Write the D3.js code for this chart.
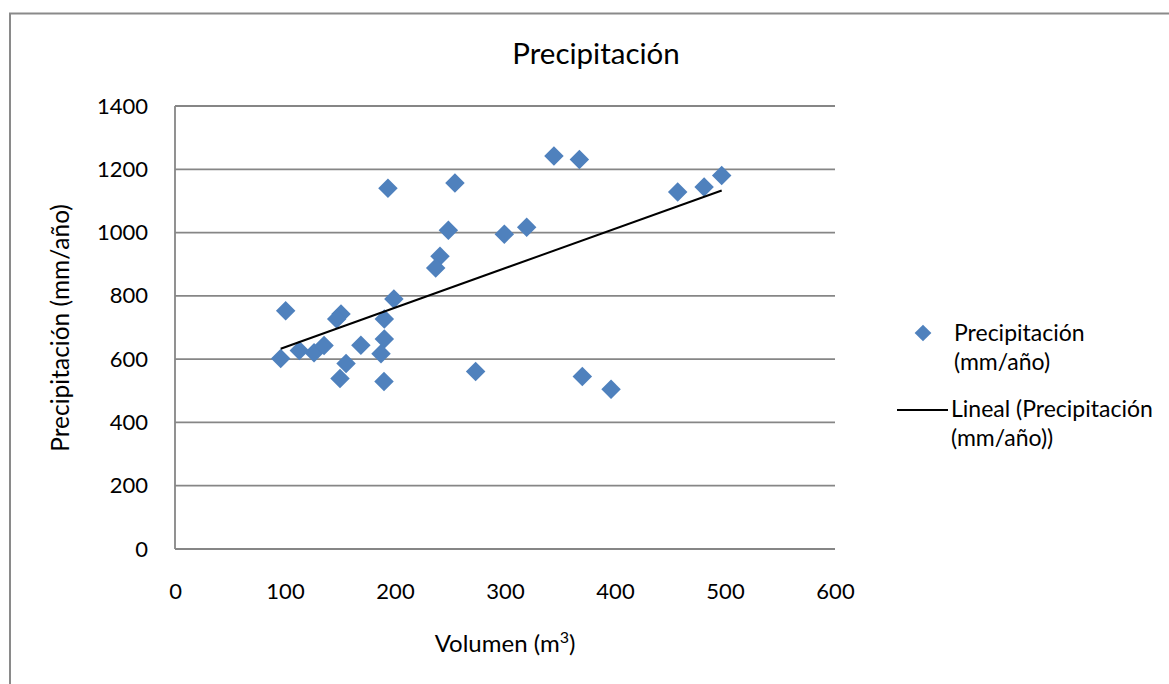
<!DOCTYPE html>
<html>
<head>
<meta charset="utf-8">
<script src="https://cdn.jsdelivr.net/npm/d3@7"></script>
<style>
  html, body { margin: 0; padding: 0; background: #fff; }
  svg { display: block; font-family: Lato, "Open Sans", sans-serif; }
</style>
</head>
<body>
<svg id="chart" width="1169" height="684"></svg>
<script>
// ---- data ----
const volumen = [100.6, 96.1, 113, 126.4, 135.5, 150.9, 147, 155.5, 150, 169,
                 190.3, 190.3, 187.3, 190, 199, 193.6, 254.5, 248.5, 299.4, 319.7,
                 240.9, 237, 344.5, 367.6, 457, 481, 497, 273.3, 370.3, 396.4];
const precipitacion = [753, 602, 627, 620, 643, 743, 727, 586, 539, 644,
                       727, 664, 617, 529, 790, 1140, 1157, 1007, 995, 1017,
                       925, 888, 1242, 1231, 1128, 1144, 1180, 561, 545, 505];
const xTicks = [0, 100, 200, 300, 400, 500, 600];
const yTicks = [0, 200, 400, 600, 800, 1000, 1200, 1400];
const titleText = "Precipitación";
const xTitleParts = ["Volumen (m", "3", ")"];
const yTitle = "Precipitación (mm/año)";
const legendSeries = ["Precipitación", "(mm/año)"];
const legendTrend = ["Lineal (Precipitación", "(mm/año))"];

const points = volumen.map((v, i) => ({x: v, y: precipitacion[i]}));

const svg = d3.select("#chart");
const x = d3.scaleLinear().domain([0, 600]).range([175, 835]);
const y = d3.scaleLinear().domain([0, 1400]).range([549, 106]);

const gridColor = "#868686";
const blue = "#4F81BD";

// outer chart border
svg.append("rect").attr("x", 10).attr("y", 13.5).attr("width", 1180).attr("height", 700)
  .attr("fill", "none").attr("stroke", "#8a8a8a").attr("stroke-width", 2);

// gridlines
svg.append("g").selectAll("line").data(yTicks).join("line")
  .attr("x1", x(0)).attr("x2", x(600))
  .attr("y1", d => y(d)).attr("y2", d => y(d))
  .attr("stroke", gridColor).attr("stroke-width", 1.8);

// y axis line
svg.append("line").attr("x1", x(0)).attr("x2", x(0)).attr("y1", y(0)).attr("y2", y(1400))
  .attr("stroke", gridColor).attr("stroke-width", 1.8);

// y tick labels
const yAxis = d3.axisLeft(y).tickValues(yTicks).tickSize(0).tickPadding(27).tickFormat(d3.format("d"));
const gy = svg.append("g").attr("transform", `translate(${x(0)},0)`).call(yAxis);
gy.select(".domain").remove();
gy.selectAll("text").attr("font-size", 22).attr("font-family", "Lato, sans-serif").attr("fill", "#000");

// x tick labels
const xAxis = d3.axisBottom(x).tickValues(xTicks).tickSize(0).tickPadding(34).tickFormat(d3.format("d"));
const gx = svg.append("g").attr("transform", `translate(0,${y(0)})`).call(xAxis);
gx.select(".domain").remove();
gx.selectAll("text").attr("font-size", 22).attr("font-family", "Lato, sans-serif").attr("fill", "#000");

// trendline (least squares)
const mx = d3.mean(points, d => d.x), my = d3.mean(points, d => d.y);
const slope = d3.sum(points, d => (d.x - mx) * (d.y - my)) / d3.sum(points, d => (d.x - mx) ** 2);
const intercept = my - slope * mx;
const [xmin, xmax] = d3.extent(points, d => d.x);

// markers
const diamond = d3.symbol().type(d3.symbolSquare).size(190);
svg.append("g").selectAll("path").data(points).join("path")
  .attr("d", diamond)
  .attr("transform", d => `translate(${x(d.x)},${y(d.y)}) rotate(45)`)
  .attr("fill", blue);

svg.append("line")
  .attr("x1", x(xmin)).attr("y1", y(slope * xmin + intercept))
  .attr("x2", x(xmax)).attr("y2", y(slope * xmax + intercept))
  .attr("stroke", "#000").attr("stroke-width", 2);

// title
svg.append("text").attr("x", 596).attr("y", 64).attr("text-anchor", "middle")
  .attr("font-size", 29.5).attr("fill", "#000").text(titleText);

// axis titles
const xt = svg.append("text").attr("x", 505).attr("y", 652).attr("text-anchor", "middle")
  .attr("font-size", 24).attr("fill", "#000");
xt.append("tspan").text(xTitleParts[0]);
xt.append("tspan").attr("dy", -9).attr("font-size", 16).text(xTitleParts[1]);
xt.append("tspan").attr("dy", 9).text(xTitleParts[2]);

svg.append("text").attr("transform", "translate(69,328) rotate(-90)").attr("text-anchor", "middle")
  .attr("font-size", 24.5).attr("fill", "#000").text(yTitle);

// legend
const lg = svg.append("g");
lg.append("path").attr("d", d3.symbol().type(d3.symbolSquare).size(140))
  .attr("transform", "translate(923,333) rotate(45)").attr("fill", blue);
lg.append("text").attr("x", 954).attr("y", 341).attr("font-size", 23).attr("fill", "#000")
  .selectAll("tspan").data(legendSeries).join("tspan")
  .attr("x", 954).attr("dy", (d, i) => i === 0 ? 0 : 29).text(d => d);
lg.append("line").attr("x1", 897).attr("x2", 948).attr("y1", 410).attr("y2", 410)
  .attr("stroke", "#000").attr("stroke-width", 2);
lg.append("text").attr("x", 951).attr("y", 417).attr("font-size", 23).attr("fill", "#000")
  .selectAll("tspan").data(legendTrend).join("tspan")
  .attr("x", 951).attr("dy", (d, i) => i === 0 ? 0 : 29).text(d => d);
</script>
</body>
</html>
